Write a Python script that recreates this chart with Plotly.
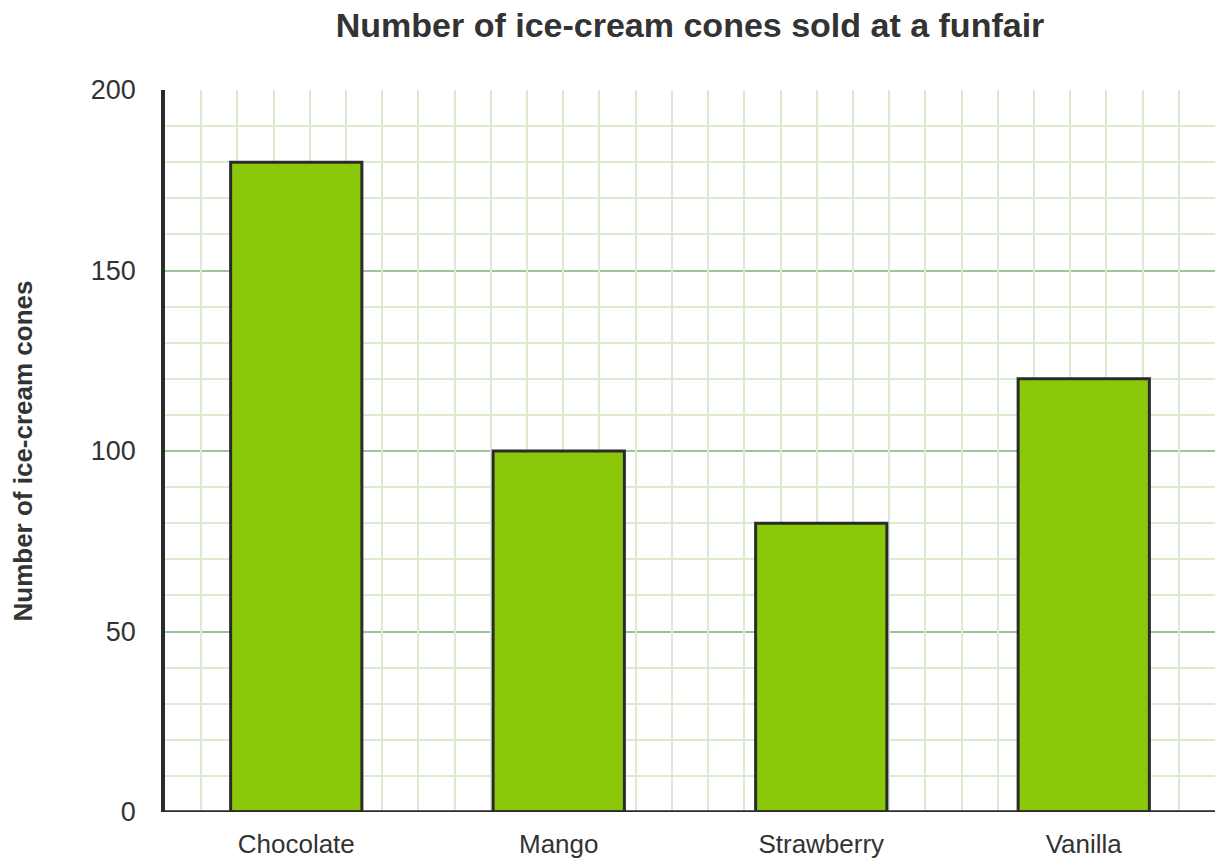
import plotly.graph_objects as go

# Ice-cream cones sold at a funfair
flavours = ["Chocolate", "Mango", "Strawberry", "Vanilla"]
cones_sold = [180, 100, 80, 120]
y_ticks = [0, 50, 100, 150, 200]

BAR_GREEN = "#8bc80a"
OUTLINE = "#2b2b2b"
MAJOR_GRID = "#9cc39c"
MINOR_GRID = "#dcebd0"
TEXT = "#333333"
FONT = "Liberation Sans, Arial, sans-serif"

fig = go.Figure()

# dummy trace so the overlay axis carrying the vertical grid is drawn
fig.add_trace(go.Scatter(x=[0, 29], y=[0, 0], xaxis="x2", mode="lines",
                         line=dict(width=0), hoverinfo="skip", showlegend=False))

fig.add_trace(go.Bar(x=flavours, y=cones_sold, width=0.5,
                     marker=dict(color=BAR_GREEN, line=dict(color=OUTLINE, width=3)),
                     showlegend=False))

# page has an 8px body margin, so the figure is shrunk by that much
fig.update_layout(
    width=1216, height=858,
    margin=dict(l=157, r=9, t=82, b=54),
    paper_bgcolor="white", plot_bgcolor="white",
    font=dict(family=FONT, color=TEXT),
    title=dict(text="<b>Number of ice-cream cones sold at a funfair</b>",
               x=0.5609, xanchor="center", y=0.994, yanchor="top",
               pad=dict(t=0, b=0), font=dict(size=34, color=TEXT)),
    xaxis=dict(range=[-0.5, 3.5], showgrid=False, zeroline=False,
               showline=False, ticks="", tickfont=dict(size=26, color=TEXT),
               ticklabelstandoff=14, automargin=False),
    xaxis2=dict(overlaying="x", range=[0, 29], dtick=1, showgrid=True,
                gridcolor=MINOR_GRID, gridwidth=2, showticklabels=False,
                zeroline=False, showline=False, ticks=""),
    yaxis=dict(range=[0, 200], tickvals=y_ticks, showgrid=True,
               gridcolor=MAJOR_GRID, gridwidth=2, zeroline=False,
               showline=True, linecolor=OUTLINE, linewidth=3.5, ticks="",
               tickfont=dict(size=27, color=TEXT), ticklabelstandoff=20,
               automargin=False,
               minor=dict(dtick=10, showgrid=True, gridcolor=MINOR_GRID, gridwidth=2),
               title=dict(text="<b>Number of ice-cream cones</b>",
                          font=dict(size=26, color=TEXT), standoff=64)),
    bargap=0.5,
)

# bottom axis line drawn over the bars' lower edges
fig.add_shape(type="line", xref="paper", yref="y", x0=0, x1=1, y0=0, y1=0,
              line=dict(color=OUTLINE, width=3.5), layer="above")

fig.write_html("out.html")
